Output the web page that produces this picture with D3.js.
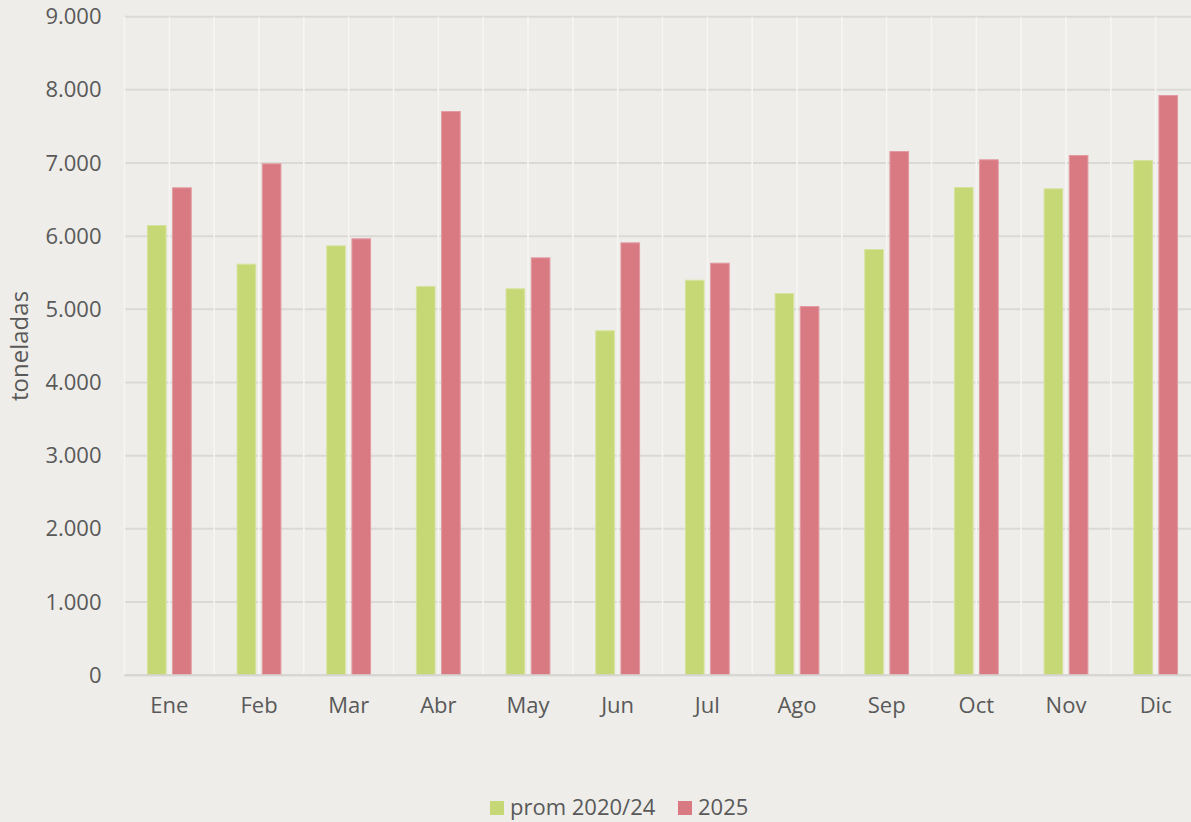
<!DOCTYPE html>
<html lang="es">
<head>
<meta charset="utf-8">
<script src="https://cdn.jsdelivr.net/npm/d3@7/dist/d3.min.js"></script>
<style>
  html, body { margin: 0; padding: 0; background: #eeede9; overflow: hidden; }
  svg { display: block; font-family: "Open Sans", "Liberation Sans", sans-serif; }
</style>
</head>
<body>
<svg id="chart" width="1191" height="822"></svg>
<script>
// Monthly tonnage: 2020/24 average vs 2025
const months = ["Ene", "Feb", "Mar", "Abr", "May", "Jun", "Jul", "Ago", "Sep", "Oct", "Nov", "Dic"];
const seriesNames = ["prom 2020/24", "2025"];
const prom2020_24 = [6153, 5624, 5875, 5319, 5288, 4714, 5405, 5223, 5825, 6672, 6654, 7041];
const values2025  = [6668, 6996, 5971, 7711, 5711, 5916, 5638, 5046, 7164, 7051, 7110, 7930];
const yTicks = [0, 1000, 2000, 3000, 4000, 5000, 6000, 7000, 8000, 9000];
const colors = ["#c6d875", "#d97a83"];
const strokes = ["#d6e39e", "#e39aa1"];
const yTitle = "toneladas";

const rows = months.map((m, i) => ({ month: m, vals: [prom2020_24[i], values2025[i]] }));

const svg = d3.select("#chart");
const plotLeft = 124.5, plotRight = 1200.5, plotTop = 16.7, plotBottom = 675.2;
const textColor = "#595959";

const x = d3.scaleBand().domain(months).range([plotLeft, plotRight])
  .paddingInner(0.5).paddingOuter(0.25);
const xs = d3.scaleBand().domain(seriesNames).range([0, x.bandwidth()]).paddingInner(0.22);
const y = d3.scaleLinear().domain([0, 9000]).range([plotBottom, plotTop]);

const fmt = d3.formatLocale({ decimal: ",", thousands: ".", grouping: [3], currency: ["", " €"] }).format(",");

// horizontal gridlines
svg.append("g").selectAll("line").data(yTicks).join("line")
  .attr("x1", plotLeft).attr("x2", plotRight)
  .attr("y1", d => y(d)).attr("y2", d => y(d))
  .attr("stroke", "#dad9d5").attr("stroke-width", 2);

// light vertical lines at category edges and centres
const step = x.step();
const vLines = [];
months.forEach(m => {
  vLines.push(x(m) - step * 0.25);
  vLines.push(x(m) + x.bandwidth() / 2);
});
vLines.push(x(months[months.length - 1]) + x.bandwidth() + step * 0.25);
svg.append("g").selectAll("line").data(vLines).join("line")
  .attr("x1", d => d).attr("x2", d => d)
  .attr("y1", plotTop).attr("y2", plotBottom - 1)
  .attr("stroke", "#f5f5f3").attr("stroke-width", 1.6);

// bars
const groups = svg.append("g").selectAll("g").data(rows).join("g")
  .attr("transform", d => `translate(${x(d.month)},0)`);
groups.selectAll("rect").data(d => d.vals.map((v, k) => ({ v, k }))).join("rect")
  .attr("x", d => xs(seriesNames[d.k]) + 0.5)
  .attr("width", xs.bandwidth() - 1)
  .attr("y", d => y(d.v) + 0.5)
  .attr("height", d => y(0) - y(d.v) - 0.5)
  .attr("fill", d => colors[d.k])
  .attr("stroke", d => strokes[d.k])
  .attr("stroke-width", 1);

// x axis line
svg.append("line")
  .attr("x1", plotLeft).attr("x2", plotRight)
  .attr("y1", y(0)).attr("y2", y(0))
  .attr("stroke", "#d6d5d1").attr("stroke-width", 2);

// y axis labels
const yAxis = svg.append("g")
  .attr("transform", `translate(${plotLeft - 23},0)`)
  .call(d3.axisLeft(y).tickValues(yTicks).tickFormat(fmt).tickSize(0).tickPadding(0));
yAxis.select(".domain").remove();
yAxis.selectAll("text")
  .attr("fill", textColor).attr("font-size", 22)
  .attr("font-family", "'Open Sans', sans-serif");

// x axis labels
const xAxis = svg.append("g")
  .attr("transform", `translate(0,${y(0)})`)
  .call(d3.axisBottom(x).tickSize(0).tickPadding(22));
xAxis.select(".domain").remove();
xAxis.selectAll("text")
  .attr("fill", textColor).attr("font-size", 22)
  .attr("font-family", "'Open Sans', sans-serif");

// y axis title
svg.append("text")
  .attr("transform", `translate(28,${(plotTop + plotBottom) / 2}) rotate(-90)`)
  .attr("text-anchor", "middle")
  .attr("fill", textColor).attr("font-size", 24)
  .text(yTitle);

// legend
const legend = svg.append("g");
const legendItems = [
  { name: seriesNames[0], color: colors[0], x: 490 },
  { name: seriesNames[1], color: colors[1], x: 678 }
];
legendItems.forEach(it => {
  legend.append("rect").attr("x", it.x).attr("y", 801).attr("width", 14).attr("height", 14)
    .attr("fill", it.color);
  legend.append("text").attr("x", it.x + 20).attr("y", 814.5)
    .attr("fill", textColor).attr("font-size", 22).text(it.name);
});
</script>
</body>
</html>
